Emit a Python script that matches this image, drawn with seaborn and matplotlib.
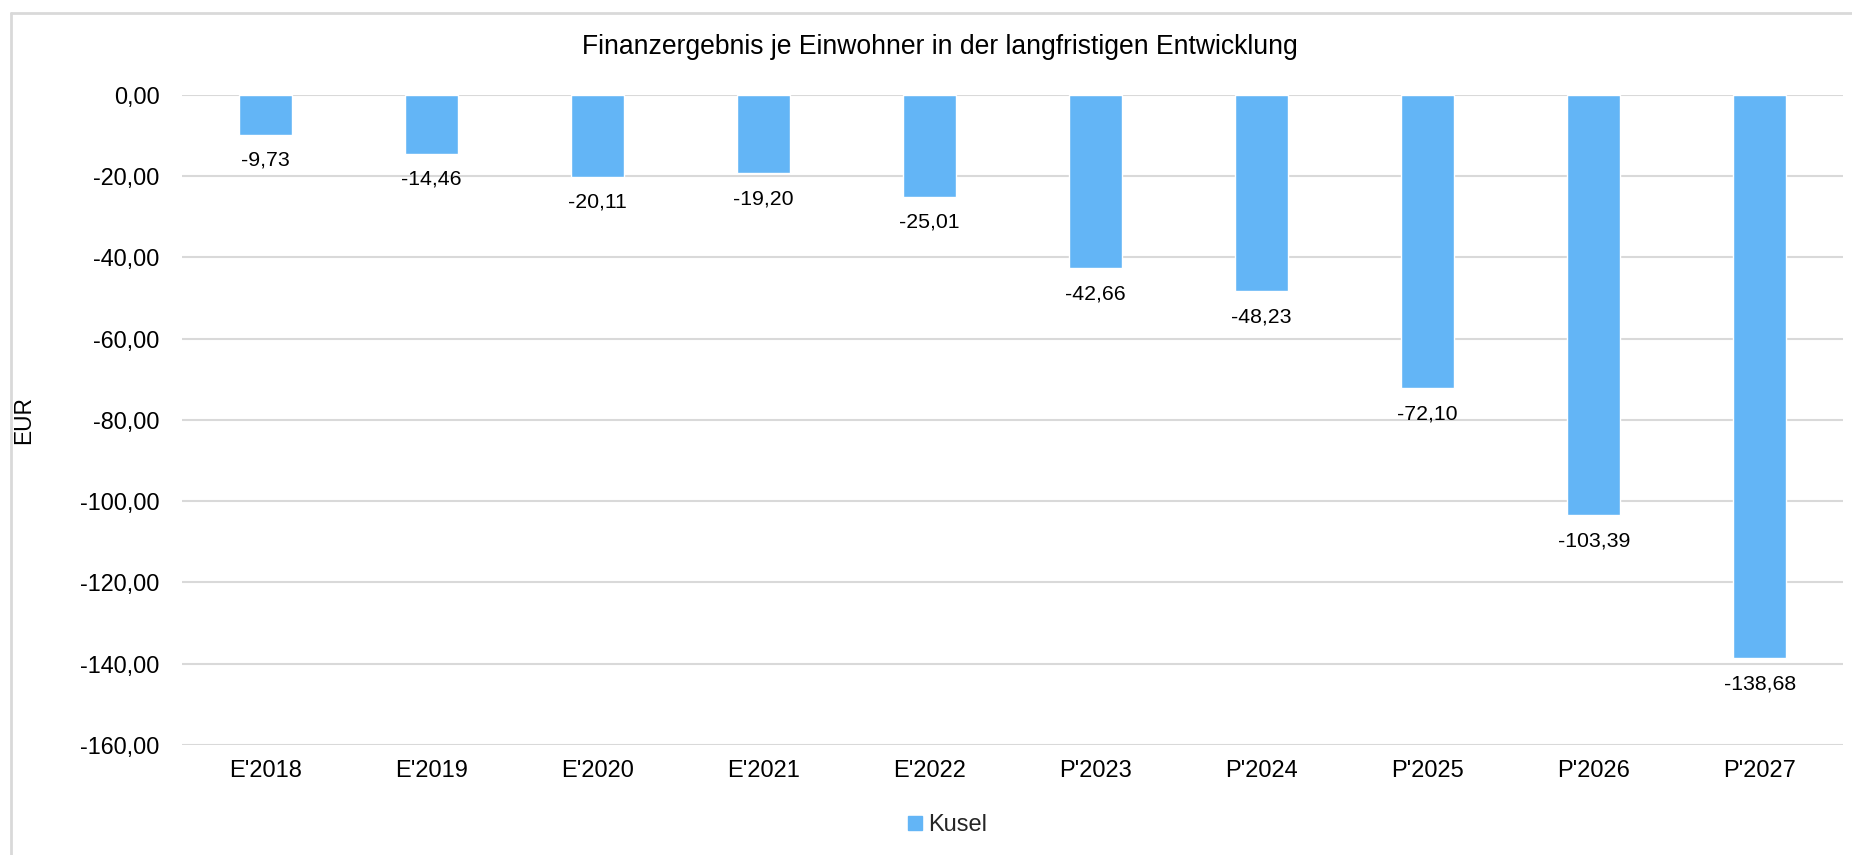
import numpy as np
import pandas as pd
import matplotlib
matplotlib.use("Agg")
import matplotlib.pyplot as plt
from matplotlib.lines import Line2D
from matplotlib.ticker import FuncFormatter
import seaborn as sns

# ------------------------------------------
# DATA
# ------------------------------------------

jahre  = ["E'2018", "E'2019", "E'2020", "E'2021", "E'2022",
          "P'2023", "P'2024", "P'2025", "P'2026", "P'2027"]
werte  = [-9.73, -14.46, -20.11, -19.20, -25.01,
          -42.66, -48.23, -72.10, -103.39, -138.68]
y_ticks = [0, -20, -40, -60, -80, -100, -120, -140, -160]
serie   = "Kusel"

TITLE   = "Finanzergebnis je Einwohner in der langfristigen Entwicklung"
BAR_COL = "#63B5F6"
GRID    = "#D9D9D9"

def de_fmt(v, _pos=None):
    return f"{v:.2f}".replace(".", ",")

df = pd.DataFrame({"jahr": jahre, "wert": werte})

# ------------------------------------------
# PLOT
# ------------------------------------------

sns.set_theme(style="white")
plt.rcParams["font.family"] = ["Liberation Sans", "DejaVu Sans"]

fig = plt.figure(figsize=(18.52, 8.55), dpi=100)
ax = fig.add_axes([0.0983, 0.1287, 0.8968, 0.7602])

sns.barplot(data=df, x="jahr", y="wert", color=BAR_COL, width=0.32,
            saturation=1, ax=ax, zorder=3)

for i, v in enumerate(werte):
    ax.annotate(de_fmt(v), xy=(i, v), xytext=(0, -18.5),
                textcoords="offset points", ha="center", va="center",
                fontsize=15.3, color="black")

ax.set_ylim(-160, 0)
ax.set_xlim(-0.5, len(jahre) - 0.5)
ax.set_yticks(y_ticks)
ax.yaxis.set_major_formatter(FuncFormatter(de_fmt))
ax.grid(axis="y", color=GRID, linewidth=1.5, zorder=0)
ax.grid(axis="x", visible=False)
for s in ax.spines.values():
    s.set_visible(False)
ax.tick_params(axis="both", length=0, colors="black")
ax.tick_params(axis="y", pad=16, labelsize=16.8)
ax.tick_params(axis="x", pad=11, labelsize=17)
ax.set_xlabel("")
ax.set_ylabel("EUR", fontsize=16.4, color="black")
ax.yaxis.set_label_coords(-0.0885, 0.5)

fig.text(0.5076, 0.945, TITLE, ha="center", va="center", fontsize=19.1, color="black")

handle = Line2D([], [], marker="s", linestyle="", markersize=9.4,
                markerfacecolor=BAR_COL, markeredgecolor=BAR_COL)
fig.legend([handle], [serie], loc="center", bbox_to_anchor=(946 / 1852, 1 - 825 / 855),
           frameon=False, fontsize=17, handletextpad=0.15, handlelength=0.8)

# outer chart frame (only top and left edges visible in the crop)
fig.add_artist(Line2D([11 / 1852, 11 / 1852], [0, 1 - 13 / 855],
                      transform=fig.transFigure, color=GRID, linewidth=2))
fig.add_artist(Line2D([11 / 1852, 1], [1 - 13 / 855, 1 - 13 / 855],
                      transform=fig.transFigure, color=GRID, linewidth=2))

fig.savefig("out.png", dpi=100)
